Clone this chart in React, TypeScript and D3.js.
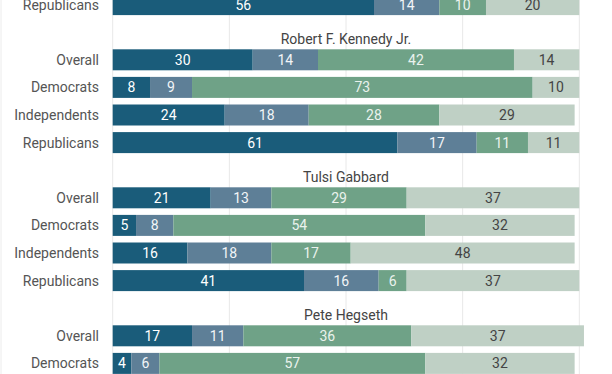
import React from 'react'
import * as d3 from 'd3'

// response categories, left to right
const categories = ['c1', 'c2', 'c3', 'c4']
const colours = ['#1a5c7a', '#5e7f97', '#6fa287', '#bfd0c5']
const textColours = ['#ffffff', '#f2f5f7', '#eaf2ed', '#444444']

const groups = ['Robert F. Kennedy Jr.', 'Tulsi Gabbard', 'Pete Hegseth']
const segments = ['Overall', 'Democrats', 'Independents', 'Republicans']

// the previous group's last row, cut off at the top
const prevRepublicans = [56, 14, 10, 20]

const kennedy = [
  [30, 14, 42, 14],
  [8, 9, 73, 10],
  [24, 18, 28, 29],
  [61, 17, 11, 11],
]
const gabbard = [
  [21, 13, 29, 37],
  [5, 8, 54, 32],
  [16, 18, 17, 48],
  [41, 16, 6, 37],
]
const hegseth = [
  [17, 11, 36, 37],
  [4, 6, 57, 32],
]

const ticks = [0, 25, 50, 75, 100]

export default function App() {
  const width = 612
  const height = 374
  const barHeight = 21

  const x = d3.scaleLinear().domain([0, 100]).range([112.7, 579.3])
  // one slot per row, titles take a slot too
  const y = d3.scaleLinear().domain([0, 1]).range([-5.9, 21.7])

  const rows: { label: string; values: number[]; slot: number }[] = []
  const titles: { text: string; slot: number }[] = []
  rows.push({ label: 'Republicans', values: prevRepublicans, slot: 0 })
  const groupData = [kennedy, gabbard, hegseth]
  let slot = 1
  groupData.forEach((g, gi) => {
    titles.push({ text: groups[gi], slot })
    slot++
    g.forEach((vals, ri) => {
      rows.push({ label: segments[ri], values: vals, slot })
      slot++
    })
  })

  const font = 'Roboto, "Noto Sans", sans-serif'

  return (
    <svg width={width} height={height} style={{ position: 'absolute', left: 0, top: 0 }}>
      <rect width={width} height={height} fill="#ffffff" />
      <line x1={1} x2={1} y1={0} y2={height} stroke="#ececec" />
      {ticks.map(t => (
        <line key={`grid_${t}`} x1={x(t)} x2={x(t)} y1={0} y2={height} stroke="#e8e8e8" strokeWidth={1} />
      ))}
      {titles.map(t => (
        <text key={t.text} x={x(50)} y={y(t.slot + 1) - 5.5} textAnchor="middle"
          fontFamily={font} fontSize={14} fill="#444">{t.text}</text>
      ))}
      {rows.map((r, ri) => {
        const stack = d3.cumsum(r.values)
        const top = y(r.slot)
        return (
          <g key={`row_${ri}`}>
            <text x={99} y={top + barHeight / 2} dy="0.35em" textAnchor="end"
              fontFamily={font} fontSize={14} fill="#555">{r.label}</text>
            {r.values.map((v, i) => {
              const x0 = x(stack[i] - v)
              const x1 = x(stack[i])
              return (
                <g key={categories[i]}>
                  <rect x={x0} y={top} width={x1 - x0} height={barHeight} fill={colours[i]} />
                  <text x={(x0 + x1) / 2} y={top + barHeight / 2} dy="0.35em" textAnchor="middle"
                    fontFamily={font} fontSize={14} fill={textColours[i]}>{v}</text>
                </g>
              )
            })}
          </g>
        )
      })}
    </svg>
  )
}
